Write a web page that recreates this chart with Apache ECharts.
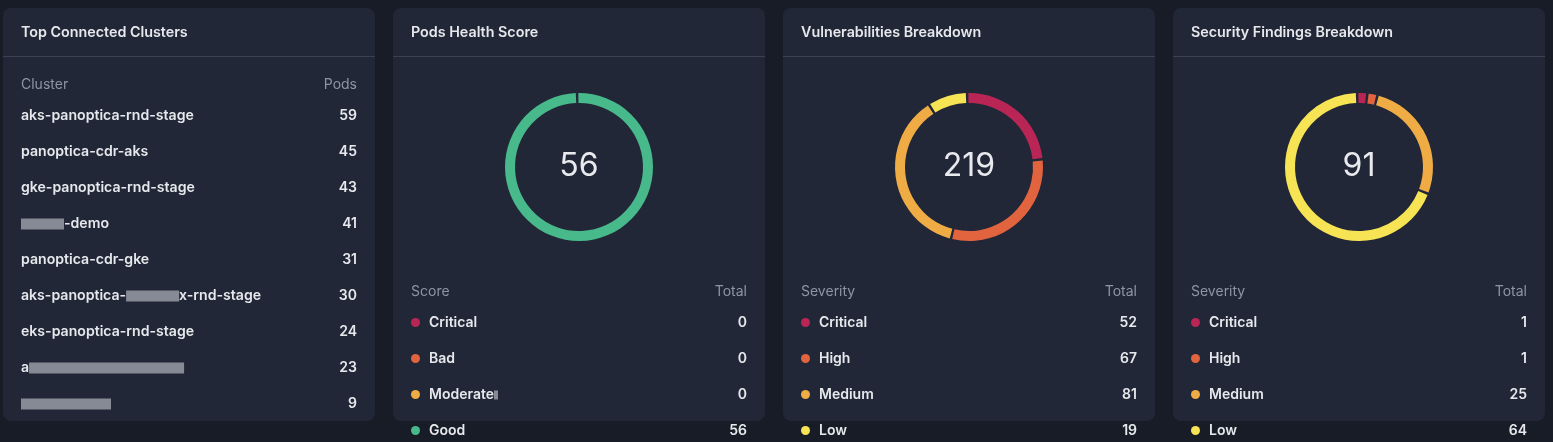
<!DOCTYPE html>
<html><head><meta charset="utf-8">
<script src="https://cdn.jsdelivr.net/npm/echarts@6/dist/echarts.min.js"></script>
<style>html,body{margin:0;padding:0;background:#181c26;overflow:hidden}#c{width:1553px;height:442px}</style>
</head><body><div id="c"></div>
<script>
// ---- data ----
const panelTitles = ['Top Connected Clusters', 'Pods Health Score', 'Vulnerabilities Breakdown', 'Security Findings Breakdown'];
const clusterHeader = ['Cluster', 'Pods'];
const clusterNames = [
  'aks-panoptica-rnd-stage',
  'panoptica-cdr-aks',
  'gke-panoptica-rnd-stage',
  '{b1| }-demo',
  'panoptica-cdr-gke',
  'aks-panoptica-{b2| }x-rnd-stage',
  'eks-panoptica-rnd-stage',
  'a{b3| }',
  '{b4| }'
];
const clusterPods = [59, 45, 43, 41, 31, 30, 24, 23, 9];
const healthHeader = ['Score', 'Total'];
const healthLabels = ['Critical', 'Bad', 'Moderate{b5| }', 'Good'];
const healthNames = ['Critical', 'Bad', 'Moderate', 'Good'];
const healthValues = [0, 0, 0, 56];
const severityHeader = ['Severity', 'Total'];
const severityLabels = ['Critical', 'High', 'Medium', 'Low'];
const vulnValues = [52, 67, 81, 19];
const findingValues = [1, 1, 25, 64];
const severityColors = ['#b92656', '#e2643e', '#f0ac44', '#f6e455'];
const healthColors = ['#b92656', '#e2643e', '#f0ac44', '#48b98a'];

// ---- layout ----
const FONT = 'Inter, "Noto Sans", sans-serif';
const panelX = [3, 393, 783, 1173];
const PW = 372, PY = 8, PH = 413;
const blurRich = {
  b1: {width: 43, height: 11, backgroundColor: '#858a94'},
  b2: {width: 53, height: 11, backgroundColor: '#858a94'},
  b3: {width: 155, height: 11, backgroundColor: '#858a94'},
  b4: {width: 90, height: 11, backgroundColor: '#858a94'},
  b5: {width: 4, height: 9, backgroundColor: '#858a94'}
};

const chart = echarts.init(document.getElementById('c'), null, {renderer: 'canvas'});
const graphic = [];
function txt(x, y, text, opt) {
  graphic.push({
    type: 'text', x: x, y: y + 1, silent: true,
    style: Object.assign({text: text, fontFamily: FONT, fontSize: 14, fill: '#e6e8ec',
      verticalAlign: 'middle', align: 'left', rich: blurRich}, opt || {})
  });
}
panelX.forEach((px, i) => {
  graphic.push({type: 'rect', silent: true, z: -10,
    shape: {x: px, y: PY, width: PW, height: PH, r: 8}, style: {fill: '#212737'}});
  graphic.push({type: 'line', silent: true, z: -9,
    shape: {x1: px, y1: 56.5, x2: px + PW, y2: 56.5}, style: {stroke: '#3b4152', lineWidth: 1}});
  txt(px + 18, 32, panelTitles[i], {fontWeight: 600, fontSize: 14.3});
});

// cluster table
txt(panelX[0] + 18, 84, clusterHeader[0], {fill: '#8e95a2'});
txt(panelX[0] + PW - 18, 84, clusterHeader[1], {fill: '#8e95a2', align: 'right'});
clusterNames.forEach((n, k) => {
  const y = 115 + k * 36;
  txt(panelX[0] + 18, y, n, {fontWeight: 600, fontSize: 14.1});
  txt(panelX[0] + PW - 18, y, String(clusterPods[k]), {fontWeight: 600, align: 'right'});
});

// donut panels
const donuts = [
  {px: panelX[1], header: healthHeader, labels: healthLabels, values: healthValues, colors: healthColors, names: healthNames},
  {px: panelX[2], header: severityHeader, labels: severityLabels, values: vulnValues, colors: severityColors, names: severityLabels},
  {px: panelX[3], header: severityHeader, labels: severityLabels, values: findingValues, colors: severityColors, names: severityLabels}
];
const series = [];
donuts.forEach(d => {
  const cx = d.px + PW / 2, cy = 167;
  const total = d.values.reduce((a, b) => a + b, 0);
  const pieData = [];
  d.values.forEach((v, i) => { if (v > 0) pieData.push({value: v, name: d.names[i], itemStyle: {color: d.colors[i]}}); });
  series.push({
    type: 'pie', center: [cx, cy], radius: [64, 74], startAngle: 91.5, clockwise: true,
    padAngle: 2, minAngle: 6, silent: true, animation: false, avoidLabelOverlap: false,
    label: {show: false}, labelLine: {show: false},
    data: pieData
  });
  txt(cx, cy - 2, String(total), {fontSize: 32, fontWeight: 400, align: 'center', fill: '#e8eaee'});
  txt(d.px + 18, 291, d.header[0], {fill: '#8e95a2'});
  txt(d.px + PW - 18, 291, d.header[1], {fill: '#8e95a2', align: 'right'});
  d.labels.forEach((l, k) => {
    const y = 322 + k * 36;
    graphic.push({type: 'circle', silent: true, shape: {cx: d.px + 22.5, cy: y + 0.5, r: 4.5}, style: {fill: d.colors[k]}});
    txt(d.px + 36, y, l, {fontWeight: 600});
    txt(d.px + PW - 18, y, String(d.values[k]), {fontWeight: 600, align: 'right'});
  });
});

chart.setOption({
  backgroundColor: '#181c26',
  animation: false,
  graphic: graphic,
  series: series
});
</script></body></html>
